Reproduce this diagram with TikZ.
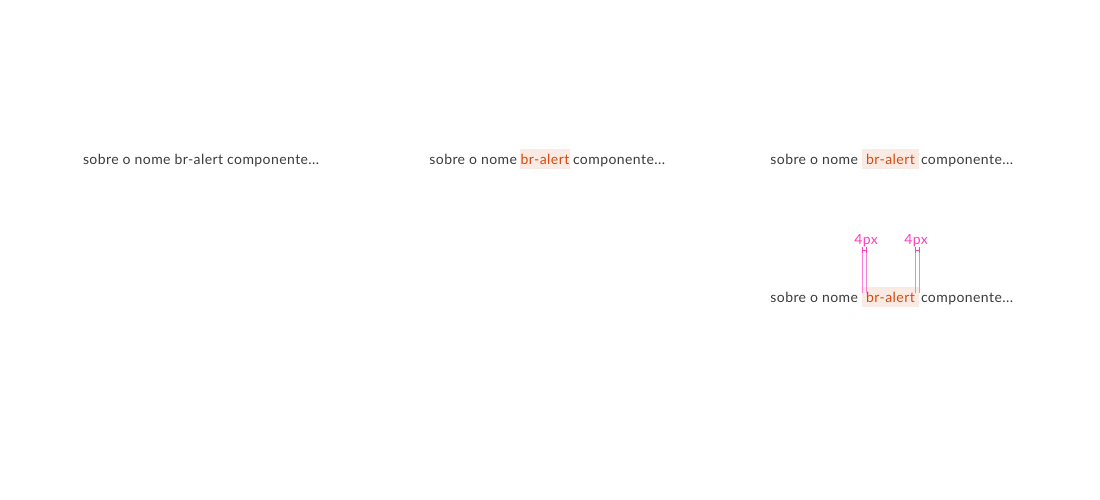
\documentclass[tikz,border=0pt]{standalone}
\usepackage{fontspec}
\setmainfont{Lato}[LetterSpace=3]
\definecolor{textColor}{RGB}{60,60,60}
\definecolor{alertColor}{RGB}{214,74,16}
\definecolor{alertFill}{RGB}{249,235,227}
\definecolor{dimColor}{RGB}{255,64,190}
\definecolor{dimLine}{RGB}{255,128,210}
\tikzset{
  bodytext/.style={text=textColor,inner sep=0pt,outer sep=0pt,font=\fontsize{14}{16}\selectfont},
  alertbox/.style={fill=alertFill,text=alertColor,inner sep=0pt,outer sep=0pt,minimum height=20,font=\fontsize{14}{16}\selectfont},
  dimtext/.style={text=dimColor,inner sep=0pt,outer sep=0pt,font=\fontsize{14}{16}\selectfont},
  dimline/.style={draw=dimLine,line width=0.8pt},
  dimtick/.style={draw=dimColor,line width=0.8pt}
}
\begin{document}
\begin{tikzpicture}[x=1pt,y=1pt]
\path[use as bounding box,fill=white] (0,0) rectangle (1100,500);

% plain text
\node[bodytext,anchor=base west] (plain) at (83,335) {sobre o nome br-alert componente...};

% highlight, no padding
\node[alertbox,minimum width=50] (alertA) at (545,341) {br-alert};
\node[bodytext,anchor=base east] (leftA) at (517,335) {sobre o nome};
\node[bodytext,anchor=base west] (rightA) at (573,335) {componente...};

% highlight, padding
\node[alertbox,minimum width=57] (alertB) at (890.5,341) {br-alert};
\node[bodytext,anchor=base east] (leftB) at (858,335) {sobre o nome};
\node[bodytext,anchor=base west] (rightB) at (921,335) {componente...};

% highlight, padding with measures
\node[alertbox,minimum width=57] (alertC) at (890.5,203) {br-alert};
\node[bodytext,anchor=base east] (leftC) at (858,197) {sobre o nome};
\node[bodytext,anchor=base west] (rightC) at (921,197) {componente...};

\coordinate (padL) at ([xshift=4]alertC.north west);
\coordinate (padR) at ([xshift=-4]alertC.north east);

\path[dimline] ([yshift=-6]alertC.north west) -- ++(0,41);
\path[dimline] ([yshift=-6]padL) -- ++(0,41);
\path[dimline] ([yshift=-6]alertC.north east) -- ++(0,41);
\path[dimline] ([yshift=-6]padR) -- ++(0,41);

\path[dimtick] ([yshift=37]alertC.north west) -- ([yshift=37]padL);
\path[dimtick] ([yshift=34]alertC.north west) -- ++(0,6);
\path[dimtick] ([yshift=34]padL) -- ++(0,6);
\path[dimtick] ([yshift=37]padR) -- ([yshift=37]alertC.north east);
\path[dimtick] ([yshift=34]padR) -- ++(0,6);
\path[dimtick] ([yshift=34]alertC.north east) -- ++(0,6);

\node[dimtext,anchor=base] (dimL) at (866,255) {4px};
\node[dimtext,anchor=base] (dimR) at (916,255) {4px};
\end{tikzpicture}
\end{document}
